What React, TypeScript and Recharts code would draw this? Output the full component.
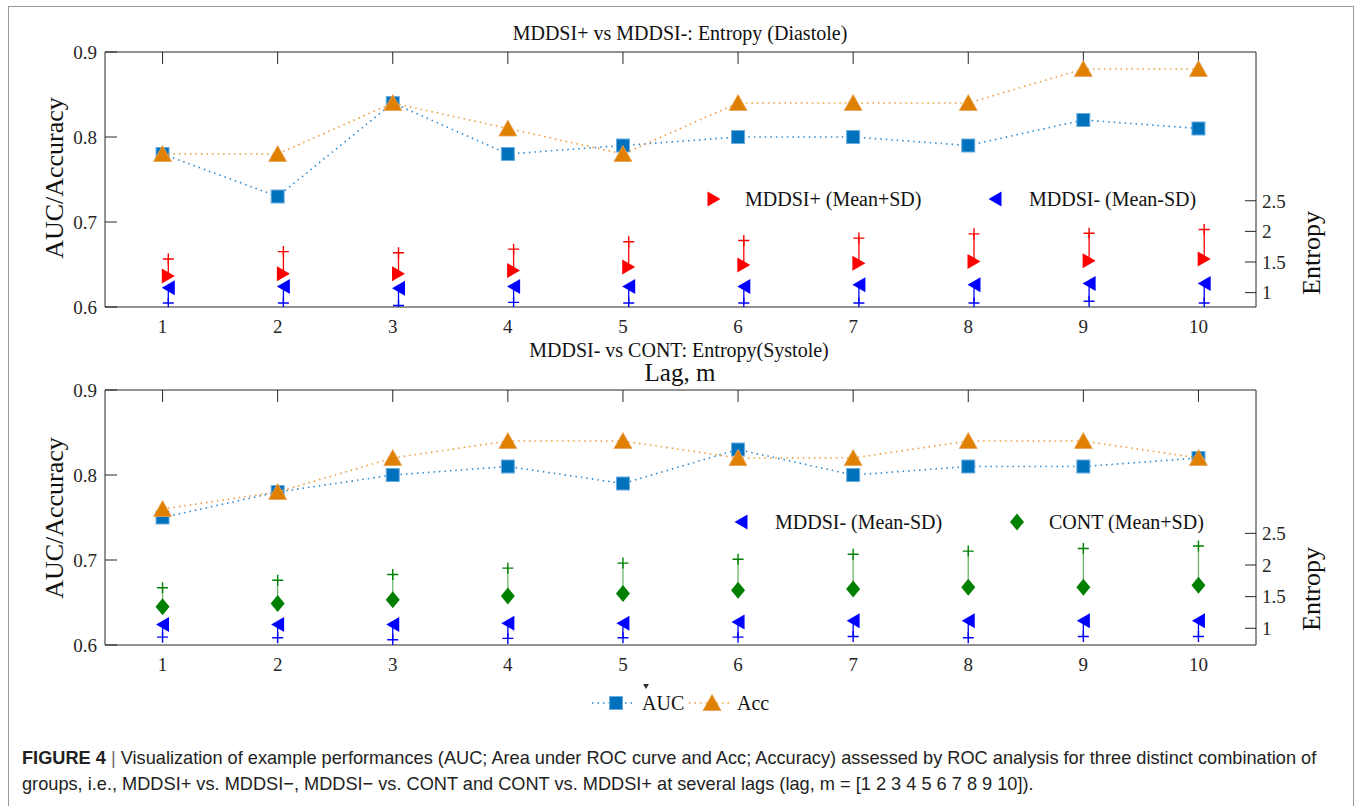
import React from "react";
import { ComposedChart, Scatter, XAxis, YAxis, ErrorBar } from "recharts";

const SERIF = "'Liberation Serif', 'DejaVu Serif', serif";
const SANS = "'Liberation Sans', Arial, sans-serif";
const AX = "#262626";
const BLUE_SQ = "#0072BD";
const ORANGE = "#E08000";

const LAGS = [1, 2, 3, 4, 5, 6, 7, 8, 9, 10];
const AUC_TICKS = [0.6, 0.7, 0.8, 0.9];
const ENT_TICKS = [1, 1.5, 2, 2.5];

// top panel: MDDSI+ vs MDDSI- (Diastole)
const TOP_AUC = [0.78, 0.73, 0.84, 0.78, 0.79, 0.8, 0.8, 0.79, 0.82, 0.81];
const TOP_ACC = [0.78, 0.78, 0.84, 0.81, 0.78, 0.84, 0.84, 0.84, 0.88, 0.88];
const TOP_PLUS_MEAN = [1.27, 1.31, 1.31, 1.36, 1.42, 1.45, 1.48, 1.51, 1.52, 1.55];
const TOP_PLUS_UPPER = [1.55, 1.67, 1.65, 1.71, 1.83, 1.85, 1.89, 1.96, 1.97, 2.03];
const TOP_MINUS_MEAN = [1.08, 1.1, 1.07, 1.1, 1.1, 1.1, 1.13, 1.13, 1.15, 1.15];
const TOP_MINUS_LOWER = [0.83, 0.83, 0.79, 0.84, 0.83, 0.83, 0.83, 0.83, 0.86, 0.83];

// bottom panel: MDDSI- vs CONT (Systole)
const BOT_AUC = [0.75, 0.78, 0.8, 0.81, 0.79, 0.83, 0.8, 0.81, 0.81, 0.82];
const BOT_ACC = [0.76, 0.78, 0.82, 0.84, 0.84, 0.82, 0.82, 0.84, 0.84, 0.82];
const BOT_MINUS_MEAN = [1.06, 1.06, 1.06, 1.08, 1.08, 1.1, 1.12, 1.12, 1.12, 1.12];
const BOT_MINUS_LOWER = [0.86, 0.85, 0.82, 0.84, 0.85, 0.86, 0.87, 0.85, 0.87, 0.87];
const BOT_CONT_MEAN = [1.34, 1.39, 1.45, 1.51, 1.55, 1.6, 1.62, 1.65, 1.65, 1.68];
const BOT_CONT_UPPER = [1.64, 1.76, 1.85, 1.95, 2.03, 2.09, 2.17, 2.22, 2.26, 2.3];

// markers
const Square = ({ cx, cy }: any) => (
  <rect x={cx - 6.5} y={cy - 6.5} width={13} height={13} fill={BLUE_SQ} stroke="#6aaee0" strokeWidth={1} />
);
const TriUp = ({ cx, cy }: any) => (
  <polygon points={`${cx - 9},${cy + 7.5} ${cx + 9},${cy + 7.5} ${cx},${cy - 8.5}`} fill={ORANGE} stroke="#eaa55a" strokeWidth={0.8} />
);
const TriRight = ({ cx, cy, color }: any) => (
  <polygon points={`${cx - 6.5},${cy - 7.5} ${cx - 6.5},${cy + 7.5} ${cx + 6.5},${cy}`} fill={color} />
);
const TriLeft = ({ cx, cy, color }: any) => (
  <polygon points={`${cx + 6.5},${cy - 7.5} ${cx + 6.5},${cy + 7.5} ${cx - 6.5},${cy}`} fill={color} />
);
const Diamond = ({ cx, cy, color }: any) => (
  <polygon points={`${cx},${cy - 8.5} ${cx + 7},${cy} ${cx},${cy + 8.5} ${cx - 7},${cy}`} fill={color} />
);
const Plus = ({ cx, cy, color }: any) => (
  <path d={`M${cx - 5.5},${cy} H${cx + 5.5} M${cx},${cy - 5.5} V${cy + 5.5}`} stroke={color} strokeWidth={1.4} fill="none" />
);

// serif tick labels
const axisTick = (dy: string, fmt: (v: number) => string) => (p: any) => (
  <text x={p.x} y={p.y} dy={dy} textAnchor={p.textAnchor} fill={AX} fontSize={19} fontFamily={SERIF}>
    {fmt(p.payload.value)}
  </text>
);

type Group = {
  mean: number[];
  end: number[];
  color: string;
  barColor: string;
  marker: "right" | "left" | "diamond";
  dx: number;
};

const markerFor = (m: Group["marker"]) => (m === "right" ? TriRight : m === "left" ? TriLeft : Diamond);

const Panel: React.FC<{ auc: number[]; acc: number[]; groups: Group[]; entDomain: number[] }> = ({ auc, acc, groups, entDomain }) => {
  const aucData = LAGS.map((x, i) => ({ x, y: auc[i] }));
  const accData = LAGS.map((x, i) => ({ x, y: acc[i] }));
  return (
    <ComposedChart width={1357} height={340} margin={{ top: 50, right: 41, bottom: 3, left: 45 }}>
      <XAxis xAxisId="top" orientation="top" type="number" dataKey="x" domain={[0.5, 10.5]} ticks={LAGS} interval={0}
        allowDataOverflow height={2} tickSize={-12} tickFormatter={() => ""} stroke={AX} />
      <XAxis xAxisId="bottom" orientation="bottom" type="number" dataKey="x" domain={[0.5, 10.5]} ticks={LAGS} interval={0}
        allowDataOverflow height={30} tickLine={false} tickSize={0} tickMargin={13}
        tick={axisTick("0.71em", (v) => String(v))} stroke={AX} />
      <YAxis yAxisId="left" orientation="left" type="number" dataKey="y" domain={[0.6, 0.9]} ticks={AUC_TICKS} interval={0}
        allowDataOverflow width={60} tickSize={-12} tickMargin={20}
        tick={axisTick("0.355em", (v) => v.toFixed(1))} stroke={AX} />
      <YAxis yAxisId="right" orientation="right" type="number" dataKey="y" domain={entDomain} ticks={ENT_TICKS} interval={0}
        allowDataOverflow width={60} tickSize={-11} tickMargin={17}
        tick={axisTick("0.355em", (v) => String(v))} stroke={AX} />

      <Scatter xAxisId="bottom" yAxisId="left" data={aucData} isAnimationActive={false}
        line={{ stroke: "#2f8ad0", strokeWidth: 1.6, strokeDasharray: "1.5 4" }} lineType="joint"
        shape={(p: any) => <Square cx={p.cx} cy={p.cy} />} />
      <Scatter xAxisId="bottom" yAxisId="left" data={accData} isAnimationActive={false}
        line={{ stroke: "#ee9a3a", strokeWidth: 1.6, strokeDasharray: "1.5 4" }} lineType="joint"
        shape={(p: any) => <TriUp cx={p.cx} cy={p.cy} />} />

      {groups.map((g, gi) => {
        const M = markerFor(g.marker);
        const up = g.end[0] > g.mean[0];
        const meanData = LAGS.map((x, i) => ({
          x: x + g.dx,
          y: g.mean[i],
          err: up ? [0, g.end[i] - g.mean[i]] : [g.mean[i] - g.end[i], 0],
        }));
        const endData = LAGS.map((x, i) => ({ x: x + g.dx, y: g.end[i] }));
        return [
          <Scatter key={`e${gi}`} xAxisId="bottom" yAxisId="right" data={endData} isAnimationActive={false}
            shape={(p: any) => <Plus cx={p.cx} cy={p.cy} color={g.color} />} />,
          <Scatter key={`m${gi}`} xAxisId="bottom" yAxisId="right" data={meanData} isAnimationActive={false}
            shape={(p: any) => <M cx={p.cx} cy={p.cy} color={g.color} />}>
            <ErrorBar dataKey="err" direction="y" width={0} stroke={g.barColor} strokeWidth={1.3} />
          </Scatter>,
        ];
      })}
    </ComposedChart>
  );
};

const topGroups: Group[] = [
  { mean: TOP_PLUS_MEAN, end: TOP_PLUS_UPPER, color: "#ff0000", barColor: "#ff0000", marker: "right", dx: 0.05 },
  { mean: TOP_MINUS_MEAN, end: TOP_MINUS_LOWER, color: "#0000ff", barColor: "#0000ff", marker: "left", dx: 0.05 },
];
const botGroups: Group[] = [
  { mean: BOT_MINUS_MEAN, end: BOT_MINUS_LOWER, color: "#0000ff", barColor: "#0000ff", marker: "left", dx: 0 },
  { mean: BOT_CONT_MEAN, end: BOT_CONT_UPPER, color: "#008000", barColor: "#6cb86c", marker: "diamond", dx: 0 },
];

const T = (props: any) => <text fontFamily={SERIF} fill="#111" {...props} />;

export default function App() {
  return (
    <div style={{ position: "relative", width: 1357, height: 806, overflow: "hidden", background: "#fff" }}>
      <style>{"body{margin:0}"}</style>
      <div style={{ position: "absolute", left: 8, top: 6, width: 1346, height: 820, border: "1.5px solid #999", boxSizing: "border-box" }} />
      <div style={{ position: "absolute", left: 0, top: 0 }}>
        <Panel auc={TOP_AUC} acc={TOP_ACC} groups={topGroups} entDomain={[0.765, 4.93]} />
      </div>
      <div style={{ position: "absolute", left: 0, top: 338 }}>
        <Panel auc={BOT_AUC} acc={BOT_ACC} groups={botGroups} entDomain={[0.736, 4.765]} />
      </div>
      <svg width={1357} height={806} style={{ position: "absolute", left: 0, top: 0, pointerEvents: "none" }}>
        <T x={680} y={40} fontSize={20} textAnchor="middle">MDDSI+ vs MDDSI-: Entropy (Diastole)</T>
        <T x={679} y={357} fontSize={20} textAnchor="middle">MDDSI- vs CONT: Entropy(Systole)</T>
        <T x={680} y={381} fontSize={25} textAnchor="middle">Lag, m</T>

        <T x={0} y={0} fontSize={26} textAnchor="middle" dominantBaseline="central" transform="translate(54,178) rotate(-90)">AUC/Accuracy</T>
        <T x={0} y={0} fontSize={26} textAnchor="middle" dominantBaseline="central" transform="translate(54,518) rotate(-90)">AUC/Accuracy</T>
        <T x={0} y={0} fontSize={26} textAnchor="middle" dominantBaseline="central" transform="translate(1311,253) rotate(-90)">Entropy</T>
        <T x={0} y={0} fontSize={26} textAnchor="middle" dominantBaseline="central" transform="translate(1311,589) rotate(-90)">Entropy</T>

        {/* top legend */}
        <TriRight cx={714} cy={199} color="#ff0000" />
        <T x={745} y={206} fontSize={20}>MDDSI+ (Mean+SD)</T>
        <TriLeft cx={995} cy={199} color="#0000ff" />
        <T x={1029} y={206} fontSize={20}>MDDSI- (Mean-SD)</T>

        {/* bottom legend */}
        <TriLeft cx={741} cy={522} color="#0000ff" />
        <T x={775} y={529} fontSize={20}>MDDSI- (Mean-SD)</T>
        <Diamond cx={1017} cy={522} color="#008000" />
        <T x={1049} y={529} fontSize={20}>CONT (Mean+SD)</T>

        {/* AUC / Acc legend */}
        <line x1={592} y1={703} x2={632} y2={703} stroke="#2f8ad0" strokeWidth={1.6} strokeDasharray="1.5 4" />
        <Square cx={616} cy={703} />
        <T x={642} y={710} fontSize={20}>AUC</T>
        <line x1={689} y1={703} x2={732} y2={703} stroke="#ee9a3a" strokeWidth={1.6} strokeDasharray="1.5 4" />
        <TriUp cx={712} cy={703} />
        <T x={737} y={710} fontSize={20}>Acc</T>
        <polygon points="643,684 649,684 646,689" fill="#333" />
      </svg>
      <div style={{ position: "absolute", left: 22, top: 748, fontFamily: SANS, fontSize: 18.2, color: "#222", whiteSpace: "nowrap" }}>
        <b>FIGURE 4</b> <span style={{ color: "#666" }}>|</span> Visualization of example performances (AUC; Area under ROC curve and Acc; Accuracy) assessed by ROC analysis for three distinct combination of
      </div>
      <div style={{ position: "absolute", left: 22, top: 774, fontFamily: SANS, fontSize: 18.2, color: "#222", whiteSpace: "nowrap" }}>
        groups, i.e., MDDSI+ vs. MDDSI−, MDDSI− vs. CONT and CONT vs. MDDSI+ at several lags (lag, m = [1 2 3 4 5 6 7 8 9 10]).
      </div>
    </div>
  );
}
